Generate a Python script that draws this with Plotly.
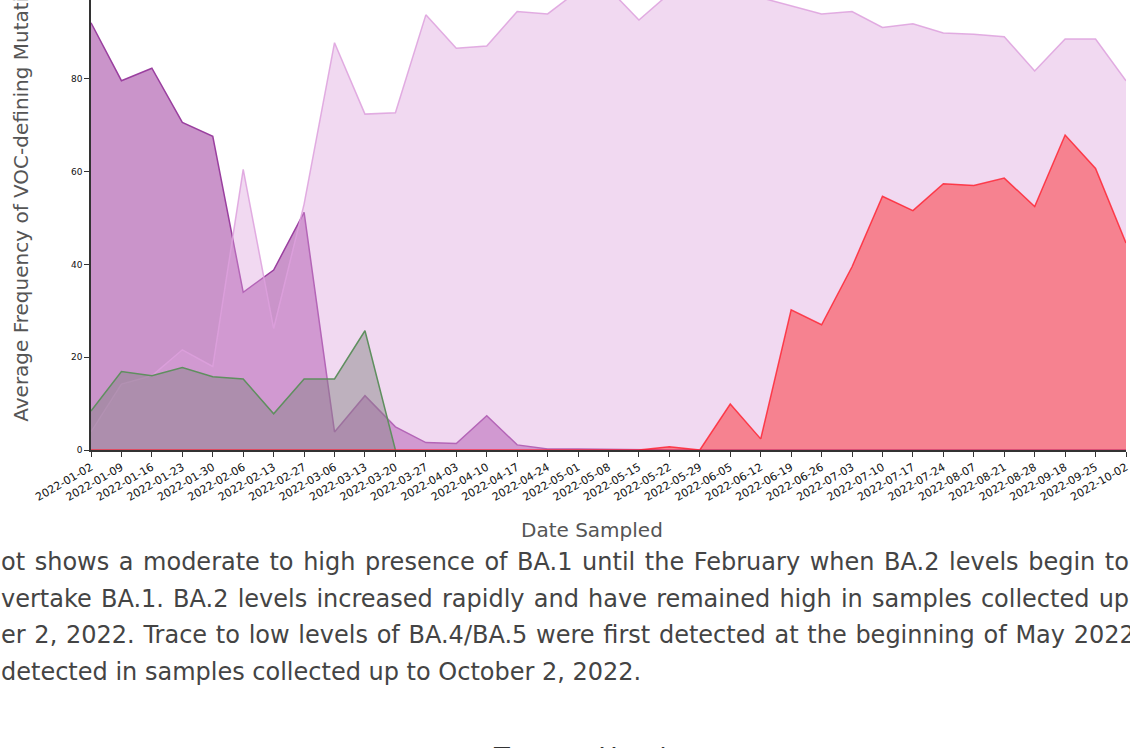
import plotly.graph_objects as go

# weekly sample dates (category axis)
dates = ['2022-01-02', '2022-01-09', '2022-01-16', '2022-01-23', '2022-01-30', '2022-02-06',
         '2022-02-13', '2022-02-27', '2022-03-06', '2022-03-13', '2022-03-20', '2022-03-27',
         '2022-04-03', '2022-04-10', '2022-04-17', '2022-04-24', '2022-05-01', '2022-05-08',
         '2022-05-15', '2022-05-22', '2022-05-29', '2022-06-05', '2022-06-12', '2022-06-19',
         '2022-06-26', '2022-07-03', '2022-07-10', '2022-07-17', '2022-07-24', '2022-08-07',
         '2022-08-21', '2022-08-28', '2022-09-18', '2022-09-25', '2022-10-02']

ba1 = [92.1, 79.6, 82.3, 70.6, 67.6, 34.0, 38.8, 51.2, 3.9, 11.7, 5.0, 1.6, 1.4, 7.4, 1.1, 0.2,
       0.2, 0.1, 0, 0, 0, 0, 0, 0, 0, 0, 0, 0, 0, 0, 0, 0, 0, 0, 0]
ba2 = [3.9, 14.2, 16.0, 21.6, 18.0, 60.5, 26.2, 53.0, 87.8, 72.4, 72.7, 93.8, 86.6, 87.1, 94.5,
       94.0, 99.0, 99.5, 92.7, 98.4, 99.5, 99.5, 97.5, 95.7, 94.0, 94.5, 91.1, 91.9, 89.9, 89.6,
       89.1, 81.7, 88.6, 88.6, 79.6]
ba11 = [8.4, 16.9, 16.0, 17.8, 15.8, 15.3, 7.8, 15.3, 15.3, 25.7, 0, None, None, None, None, None,
        None, None, None, None, None, None, None, None, None, None, None, None, None, None,
        None, None, None, None, None]
ba45 = [0, 0, 0, 0, 0, 0, 0, 0, 0, 0, 0, 0, 0, 0, 0, 0, 0, 0, 0, 0.7, 0, 9.9, 2.4, 30.2, 27.0,
        39.5, 54.7, 51.6, 57.4, 57.0, 58.6, 52.5, 67.9, 60.7, 44.6]

paragraph = [
    "ot shows a moderate to high presence of BA.1 until the February when BA.2 levels begin to",
    "vertake BA.1. BA.2 levels increased rapidly and have remained high in samples collected up",
    "er 2, 2022. Trace to low levels of BA.4/BA.5 were first detected at the beginning of May 2022",
    "detected in samples collected up to October 2, 2022.",
]
# extra space between words (px) so the justified lines reach the right edge
word_gap = [1.95, 1.55, 1.1, 0]

W, H = 1130, 748
L, B = 91, 450  # plot area left edge / bottom edge in pixels


def px_x(p):
    return (p - L) / (W - L)


def px_y(p):
    return (B - p) / B


font = "DejaVu Sans"

fig = go.Figure()
fig.add_trace(go.Scatter(x=dates, y=ba1, name='BA.1', mode='lines', fill='tozeroy',
                         line=dict(color='#9a3f9f', width=1.5),
                         fillcolor='rgba(128,0,128,0.42)'))
fig.add_trace(go.Scatter(x=dates, y=ba2, name='BA.2', mode='lines', fill='tozeroy',
                         line=dict(color='rgba(221,160,221,0.85)', width=1.5),
                         fillcolor='rgba(221,160,221,0.4)'))
fig.add_trace(go.Scatter(x=dates, y=ba11, name='BA.1.1', mode='lines', fill='tozeroy',
                         line=dict(color='#5f8f5f', width=1.5),
                         fillcolor='rgba(128,128,128,0.45)'))
fig.add_trace(go.Scatter(x=dates, y=ba45, name='BA.4/BA.5', mode='lines', fill='tozeroy',
                         line=dict(color='rgba(255,30,45,0.8)', width=1.5),
                         fillcolor='rgba(255,0,0,0.4)'))

fig.update_xaxes(type='category', range=[0, len(dates) - 1], tickangle=-30,
                 showline=True, linecolor='#333', linewidth=1.5, ticks='outside',
                 ticklen=5, tickcolor='#333', showgrid=False, zeroline=False,
                 tickfont=dict(family=font, size=11, color='#111'))
fig.update_yaxes(range=[0, 97.0], tickvals=[0, 20, 40, 60, 80, 100],
                 showline=True, linecolor='#333', linewidth=1.5, ticks='outside',
                 ticklen=5, tickcolor='#333', showgrid=False, zeroline=False,
                 tickfont=dict(family=font, size=9, color='#111'))

annotations = [
    dict(text="Date Sampled", x=px_x(594), y=px_y(530), xanchor='center', yanchor='middle',
         font=dict(family=font, size=20, color='#555')),
    dict(text="Average Frequency of VOC-defining Mutations (%)", textangle=-90,
         x=px_x(20), y=px_y(424), xanchor='center', yanchor='bottom',
         font=dict(family=font, size=20, color='#555')),
    dict(text="Toronto Humber", x=px_x(493), y=px_y(740.5), xanchor='left', yanchor='top',
         font=dict(family=font, size=26, color='#333')),
]
for i, line in enumerate(paragraph):
    txt = line
    if word_gap[i]:
        txt = '<span style="word-spacing:%spx">%s</span>' % (word_gap[i], line)
    annotations.append(dict(text=txt, x=px_x(-1), y=px_y(562 + i * 36.7),
                            xanchor='left', yanchor='middle',
                            font=dict(family=font, size=24, color='#444')))
for a in annotations:
    a.update(xref='paper', yref='paper', showarrow=False)

fig.update_layout(width=W, height=H, margin=dict(l=L, r=0, t=0, b=H - B),
                  plot_bgcolor='white', paper_bgcolor='white', showlegend=False,
                  annotations=annotations)

# drop the default page margin so the figure sits at the window's top-left corner
fig.write_html("out.html", config={'displayModeBar': False},
               post_script="document.body.style.margin='0';document.body.style.overflow='hidden';")
